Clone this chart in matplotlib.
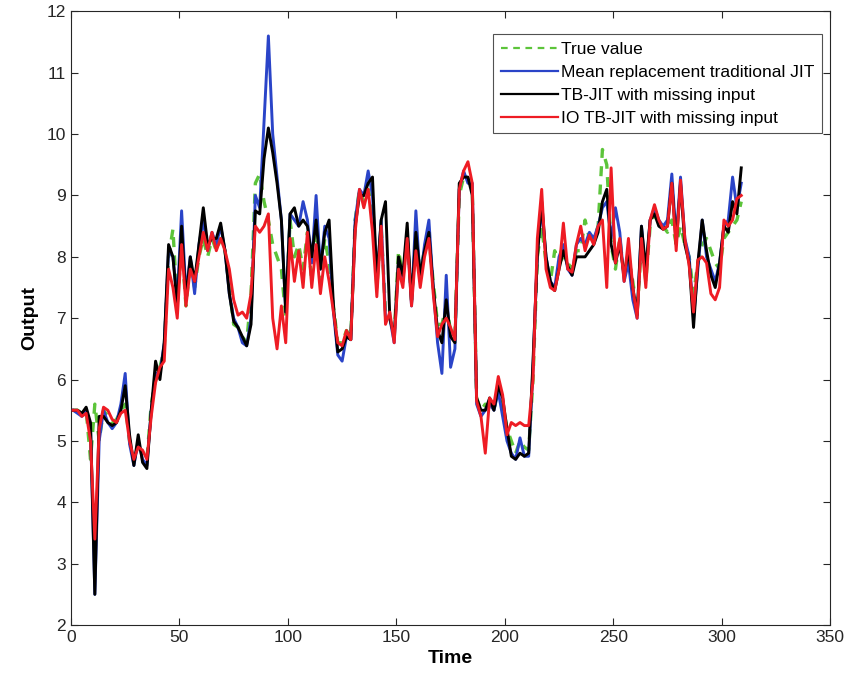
import matplotlib
matplotlib.use("Agg")
import matplotlib.pyplot as plt
import numpy as np

plt.rcParams['font.family'] = ['Liberation Sans', 'DejaVu Sans']

time = list(range(1, 310, 2))

true_value = [5.5, 5.5, 5.45, 5.5, 4.7, 5.6, 5.0, 5.5, 5.4, 5.3,
              5.35, 5.5, 5.6, 5.0, 4.7, 4.9, 4.8, 4.7, 5.6, 6.0,
              6.2, 6.5, 8.0, 8.45, 7.2, 8.2, 7.2, 7.9, 7.5, 8.0,
              8.3, 8.0, 8.3, 8.1, 8.3, 8.1, 7.5, 6.9, 6.85, 6.7,
              6.6, 7.4, 9.2, 9.35, 8.9, 8.6, 8.2, 8.0, 7.8, 7.0,
              8.6, 8.0, 8.2, 7.8, 8.4, 7.6, 8.7, 7.6, 8.3, 7.9,
              7.2, 6.6, 6.6, 6.8, 6.7, 8.6, 9.1, 8.9, 9.1, 8.8,
              7.5, 8.5, 7.1, 7.0, 6.7, 8.1, 7.7, 8.3, 7.3, 8.3,
              7.8, 8.1, 8.3, 7.6, 6.9, 6.9, 7.2, 6.8, 6.7, 9.0,
              9.3, 9.3, 9.1, 5.7, 5.5, 5.6, 5.5, 5.5, 5.9, 5.6,
              5.2, 5.0, 4.8, 5.0, 4.9, 4.85, 6.0, 8.0, 8.5, 7.9,
              7.6, 8.1, 7.9, 8.0, 7.9, 7.8, 8.1, 8.1, 8.6, 8.3,
              8.3, 8.5, 9.75, 9.5, 8.2, 7.8, 8.3, 7.7, 8.0, 7.6,
              7.1, 8.2, 7.6, 8.5, 8.7, 8.6, 8.5, 8.4, 8.6, 8.2,
              8.5, 8.2, 8.0, 7.4, 7.9, 8.2, 8.3, 8.1, 7.9, 7.8,
              8.3, 8.4, 8.5, 8.6, 8.9]

mean_jit = [5.5, 5.45, 5.4, 5.5, 5.2, 2.5, 5.0, 5.5, 5.3, 5.2,
            5.3, 5.6, 6.1, 4.95, 4.6, 5.0, 4.7, 4.6, 5.5, 6.1,
            6.1, 6.6, 8.1, 8.0, 7.3, 8.75, 7.4, 8.0, 7.4, 8.2,
            8.6, 8.1, 8.4, 8.2, 8.5, 8.1, 7.4, 7.0, 6.85, 6.6,
            6.55, 7.0, 9.0, 8.8, 10.2, 11.6, 10.0, 9.3, 8.6, 7.1,
            8.7, 8.6, 8.5, 8.9, 8.6, 7.9, 9.0, 7.8, 8.5, 8.3,
            7.1, 6.4, 6.3, 6.7, 6.65, 8.6, 9.1, 9.0, 9.4, 9.0,
            7.6, 8.6, 7.0, 7.0, 6.6, 7.9, 7.6, 8.4, 7.2, 8.75,
            7.6, 8.2, 8.6, 7.5, 6.6, 6.1, 7.7, 6.2, 6.5, 9.1,
            9.4, 9.2, 9.2, 5.6, 5.4, 5.5, 5.6, 5.5, 5.8, 5.4,
            5.0, 4.8, 4.7, 5.05, 4.75, 4.75, 6.2, 8.1, 8.8, 8.0,
            7.6, 7.5, 8.0, 8.2, 7.8, 7.7, 8.2, 8.3, 8.2, 8.4,
            8.3, 8.5, 8.8, 8.9, 8.3, 8.8, 8.4, 7.6, 7.9, 7.3,
            7.0, 8.5, 7.7, 8.6, 8.8, 8.6, 8.5, 8.6, 9.35, 8.3,
            9.3, 8.3, 8.0, 7.0, 7.8, 8.6, 8.0, 7.8, 7.6, 7.9,
            8.5, 8.6, 9.3, 8.8, 9.2]

tb_jit = [5.5, 5.5, 5.45, 5.55, 5.3, 2.5, 5.4, 5.4, 5.3, 5.25,
          5.3, 5.5, 5.9, 5.1, 4.6, 5.1, 4.65, 4.55, 5.5, 6.3,
          6.0, 6.6, 8.2, 8.0, 7.2, 8.5, 7.3, 8.0, 7.6, 8.2,
          8.8, 8.2, 8.3, 8.3, 8.55, 8.1, 7.4, 6.95, 6.85, 6.7,
          6.55, 6.9, 8.75, 8.7, 9.6, 10.1, 9.7, 9.2, 8.6, 7.1,
          8.7, 8.8, 8.5, 8.6, 8.5, 8.0, 8.6, 7.8, 8.4, 8.6,
          7.2, 6.45, 6.5, 6.7, 6.65, 8.5, 9.0, 9.0, 9.2, 9.3,
          7.6, 8.6, 8.9, 7.0, 6.7, 8.0, 7.7, 8.55, 7.25, 8.4,
          7.7, 8.1, 8.4, 7.5, 6.8, 6.6, 7.3, 6.7, 6.6, 9.2,
          9.3, 9.3, 9.0, 5.7, 5.5, 5.5, 5.7, 5.5, 5.9, 5.7,
          5.2, 4.75, 4.7, 4.8, 4.75, 4.8, 6.3, 8.0, 8.9, 8.0,
          7.6, 7.45, 7.8, 8.1, 7.85, 7.7, 8.0, 8.0, 8.0, 8.1,
          8.2, 8.4, 8.9, 9.1, 8.2, 7.9, 8.2, 7.7, 8.1, 7.5,
          7.05, 8.5, 7.8, 8.6, 8.7, 8.5, 8.45, 8.5, 9.2, 8.2,
          9.2, 8.2, 7.9, 6.85, 7.9, 8.6, 8.1, 7.7, 7.5, 7.9,
          8.5, 8.4, 8.9, 8.7, 9.45]

io_tb_jit = [5.5, 5.5, 5.4, 5.45, 5.0, 3.4, 5.2, 5.55, 5.5, 5.35,
             5.3, 5.45, 5.5, 5.0, 4.7, 4.9, 4.85, 4.7, 5.4, 5.95,
             6.2, 6.3, 7.8, 7.5, 7.0, 8.2, 7.2, 7.8, 7.6, 8.0,
             8.4, 8.1, 8.4, 8.1, 8.3, 8.1, 7.8, 7.3, 7.05, 7.1,
             7.0, 7.4, 8.5, 8.4, 8.5, 8.7, 7.0, 6.5, 7.2, 6.6,
             8.3, 7.6, 8.1, 7.5, 8.4, 7.5, 8.2, 7.4, 8.0, 7.6,
             7.1, 6.6, 6.55, 6.8, 6.65, 8.4, 9.1, 8.8, 9.1, 8.4,
             7.35, 8.5, 6.9, 7.1, 6.6, 7.8, 7.5, 8.3, 7.2, 8.1,
             7.5, 8.0, 8.3, 7.4, 6.7, 6.9, 7.0, 6.85, 6.65, 9.1,
             9.4, 9.55, 9.2, 5.65, 5.4, 4.8, 5.7, 5.6, 6.05, 5.75,
             5.1, 5.3, 5.25, 5.3, 5.25, 5.25, 6.0, 8.3, 9.1, 7.8,
             7.5, 7.45, 7.8, 8.55, 7.8, 7.75, 8.2, 8.5, 8.1, 8.35,
             8.2, 8.5, 8.6, 7.5, 9.45, 7.9, 8.3, 7.6, 8.3, 7.5,
             7.0, 8.3, 7.5, 8.6, 8.85, 8.6, 8.45, 8.5, 9.2, 8.1,
             9.25, 8.3, 7.85, 7.1, 7.95, 8.0, 7.9, 7.4, 7.3, 7.5,
             8.6, 8.5, 8.6, 8.95, 9.0]

labels = ['True value', 'Mean replacement traditional JIT',
          'TB-JIT with missing input', 'IO TB-JIT with missing input']

fig = plt.figure(figsize=(8.48, 6.91), dpi=100)
ax = fig.add_axes([0.0837, 0.0955, 0.8953, 0.888])

lw = 2.1
ax.plot(time, true_value, color='#5CC43A', linestyle=(0, (3, 2.5)), linewidth=lw + 0.3,
        label=labels[0], zorder=2)
ax.plot(time, mean_jit, color='#2A44C8', linewidth=lw, label=labels[1], zorder=3)
ax.plot(time, tb_jit, color='black', linewidth=lw, label=labels[2], zorder=4)
ax.plot(time, io_tb_jit, color='#EE1C24', linewidth=lw, label=labels[3], zorder=5)

ax.set_xlim(0, 350)
ax.set_ylim(2, 12)
ax.set_xticks(range(0, 351, 50))
ax.set_yticks(range(2, 13, 1))
ax.tick_params(direction='in', top=True, right=True, labelsize=12.5, length=5,
               colors='#262626', labelcolor='#262626')
for s in ax.spines.values():
    s.set_color('#262626')
    s.set_linewidth(0.8)

ax.set_xlabel('Time', fontsize=14, fontweight='bold', labelpad=4)
ax.set_ylabel('Output', fontsize=14, fontweight='bold', labelpad=6)

leg = ax.legend(loc='upper right', bbox_to_anchor=(0.996, 0.972), fontsize=12.5,
                frameon=True, fancybox=False, edgecolor='#262626',
                handlelength=3.3, handletextpad=0.15, borderpad=0.45,
                labelspacing=0.45, borderaxespad=0.3)
leg.get_frame().set_linewidth(0.8)
for h in leg.get_lines():
    h.set_linewidth(1.6)

fig.savefig('out.png', dpi=100)
